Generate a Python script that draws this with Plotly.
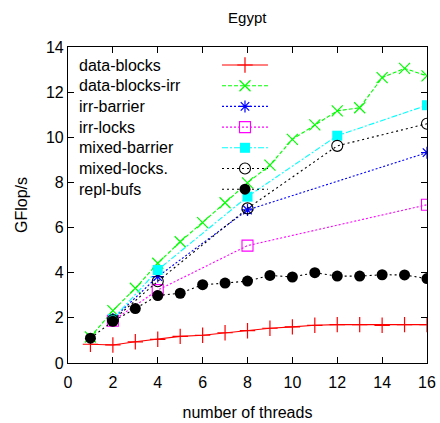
import plotly.graph_objects as go

# Thread counts and measured GFlop/s per implementation
threads_all = list(range(1, 17))
threads_pow2 = [2, 4, 8, 16]
threads_mixed = [2, 4, 8, 12, 16]

data_blocks = [0.83, 0.80, 0.94, 1.05, 1.18, 1.23, 1.34, 1.43,
               1.54, 1.60, 1.67, 1.70, 1.70, 1.67, 1.70, 1.70]
data_blocks_irr = [1.15, 2.32, 3.31, 4.42, 5.37, 6.22, 7.10, 7.98,
                   8.77, 9.91, 10.55, 11.17, 11.31, 12.64, 13.05, 12.72]
irr_barrier = [1.95, 3.83, 6.78, 9.32]
irr_locks = [1.87, 3.23, 5.20, 7.01]
mixed_barrier = [1.95, 4.12, 7.37, 10.07, 11.42]
mixed_locks = [1.90, 3.62, 6.85, 9.62, 10.60]
repl_bufs = [1.10, 1.85, 2.41, 2.99, 3.09, 3.47, 3.54, 3.63,
             3.88, 3.81, 4.00, 3.85, 3.85, 3.91, 3.90, 3.74]

x_ticks = list(range(0, 17, 2))
y_ticks = list(range(0, 15, 2))

series = [
    ("data-blocks", threads_all, data_blocks, "#ff0000", "solid",
     dict(symbol="cross-thin", size=11, line=dict(color="#ff0000", width=1.2))),
    ("data-blocks-irr", threads_all, data_blocks_irr, "#00ff00", "4px,2px",
     dict(symbol="x-thin", size=11, line=dict(color="#00ff00", width=1.2))),
    ("irr-barrier", threads_pow2, irr_barrier, "#0000ff", "2px,2px",
     dict(symbol="asterisk", size=10, line=dict(color="#0000ff", width=1.2))),
    ("irr-locks", threads_pow2, irr_locks, "#ff00ff", "2px,2px",
     dict(symbol="square-open", size=11, color="#ff00ff", line=dict(width=1.1))),
    ("mixed-barrier", threads_mixed, mixed_barrier, "#00ffff", "6px,2px,2px,2px",
     dict(symbol="square", size=10, color="#00ffff", line=dict(width=0))),
    ("mixed-locks.", threads_mixed, mixed_locks, "#000000", "2px,3px",
     dict(symbol="circle-open", size=11, color="#000000", line=dict(width=1.1))),
    ("repl-bufs", threads_all, repl_bufs, "#000000", "2px,3px",
     dict(symbol="circle", size=11, color="#000000", line=dict(width=0))),
]

FONT = "Liberation Sans, Arial, sans-serif"
fig = go.Figure()

for name, xs, ys, color, dash, marker in series:
    fig.add_trace(go.Scatter(
        x=xs, y=ys, mode="lines+markers", name=name,
        line=dict(color=color, width=1.1, dash=dash),
        marker=marker, showlegend=False,
        xaxis="x", yaxis="y",
    ))

# Key in the upper-left corner: label on the left, line sample on the right
key_text_x = 0.025
key_line_x = [0.429, 0.493, 0.557]
key_top = 0.943
key_step = 0.0655
for i, (name, xs, ys, color, dash, marker) in enumerate(series):
    ky = key_top - i * key_step
    fig.add_trace(go.Scatter(
        x=key_line_x, y=[ky] * 3, mode="lines",
        line=dict(color=color, width=1.1, dash=dash),
        showlegend=False, hoverinfo="skip", xaxis="x2", yaxis="y2",
    ))
    fig.add_trace(go.Scatter(
        x=[key_line_x[1]], y=[ky], mode="markers", marker=marker,
        showlegend=False, hoverinfo="skip", xaxis="x2", yaxis="y2",
    ))
    fig.add_annotation(
        x=key_text_x, y=ky, xref="x2", yref="y2", text=name,
        showarrow=False, xanchor="left", yanchor="middle",
        font=dict(family=FONT, size=16, color="#000000"),
    )

axis_common = dict(
    showline=True, linecolor="#000000", linewidth=1.2, mirror="allticks",
    ticks="inside", ticklen=6, tickcolor="#000000", tickwidth=1,
    showgrid=False, zeroline=False, automargin=False,
    tickfont=dict(family=FONT, size=16, color="#000000"),
)

fig.update_layout(
    width=440, height=423,
    margin=dict(l=68, r=13, t=47, b=60, autoexpand=False),
    paper_bgcolor="#ffffff", plot_bgcolor="#ffffff",
    title=dict(text="Egypt", x=0.562, xanchor="center", y=0.957, yanchor="middle",
               font=dict(family=FONT, size=15, color="#000000")),
    xaxis=dict(range=[0, 16], tickvals=x_ticks, ticklabelstandoff=5,
               title=dict(text="number of threads", standoff=16,
                          font=dict(family=FONT, size=16, color="#000000")),
               **axis_common),
    yaxis=dict(range=[0, 14], tickvals=y_ticks,
               title=dict(text="GFlop/s", standoff=14,
                          font=dict(family=FONT, size=16, color="#000000")),
               **axis_common),
    xaxis2=dict(range=[0, 1], overlaying="x", visible=False, fixedrange=True),
    yaxis2=dict(range=[0, 1], overlaying="y", visible=False, fixedrange=True),
    showlegend=False,
)

fig.write_html("out.html")
